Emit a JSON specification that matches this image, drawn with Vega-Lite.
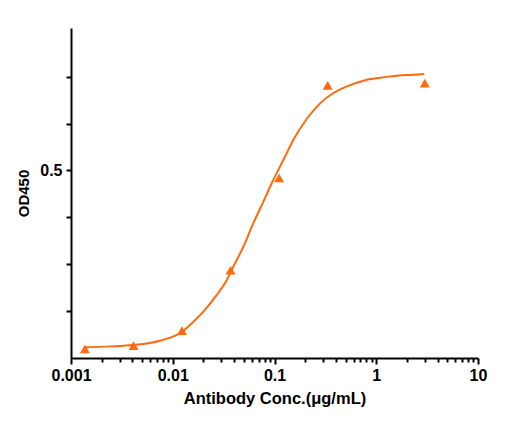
{
  "$schema": "https://vega.github.io/schema/vega-lite/v6.json",
  "width": 407,
  "height": 330,
  "autosize": {"type": "none"},
  "padding": {"left": 71, "top": 28, "right": 53, "bottom": 66},
  "background": "white",
  "config": {
    "view": {"stroke": null},
    "font": "Liberation Sans",
    "axis": {
      "domainColor": "black",
      "domainWidth": 2,
      "tickColor": "black",
      "tickWidth": 2,
      "grid": false,
      "labelFont": "Liberation Sans",
      "labelFontWeight": "bold",
      "labelFontSize": 16,
      "labelColor": "black",
      "titleFont": "Liberation Sans",
      "titleFontWeight": "bold",
      "titleFontSize": 16.5,
      "titleColor": "black"
    }
  },
  "datasets": {
    "points": [
      {"conc": 0.00137, "od": 0.024},
      {"conc": 0.00412, "od": 0.033},
      {"conc": 0.0123, "od": 0.073},
      {"conc": 0.037, "od": 0.234},
      {"conc": 0.111, "od": 0.48},
      {"conc": 0.333, "od": 0.727},
      {"conc": 3.0, "od": 0.733}
    ],
    "curve": [
      {"conc": 0.00135, "od": 0.0286},
      {"conc": 0.00242, "od": 0.031},
      {"conc": 0.0041, "od": 0.0347},
      {"conc": 0.0075, "od": 0.0462},
      {"conc": 0.0123, "od": 0.0695},
      {"conc": 0.01479, "od": 0.0881},
      {"conc": 0.02, "od": 0.1236},
      {"conc": 0.0271, "od": 0.1682},
      {"conc": 0.034, "od": 0.2082},
      {"conc": 0.0394, "od": 0.2437},
      {"conc": 0.0495, "od": 0.2971},
      {"conc": 0.062, "od": 0.3596},
      {"conc": 0.0778, "od": 0.4172},
      {"conc": 0.0975, "od": 0.4752},
      {"conc": 0.1225, "od": 0.5286},
      {"conc": 0.1535, "od": 0.582},
      {"conc": 0.208, "od": 0.638},
      {"conc": 0.2806, "od": 0.679},
      {"conc": 0.3795, "od": 0.7066},
      {"conc": 0.514, "od": 0.7242},
      {"conc": 0.748, "od": 0.7394},
      {"conc": 1.091, "od": 0.7474},
      {"conc": 1.595, "od": 0.7528},
      {"conc": 2.32, "od": 0.7554},
      {"conc": 2.96, "od": 0.7573}
    ]
  },
  "resolve": {"axis": {"x": "independent"}},
  "layer": [
    {
      "data": {"name": "curve"},
      "mark": {"type": "line", "color": "#FF6A0D", "strokeWidth": 2, "interpolate": "monotone"},
      "encoding": {
        "x": {
          "field": "conc", "type": "quantitative",
          "scale": {"type": "log", "domain": [0.001, 10], "nice": false},
          "axis": {
            "orient": "bottom",
            "values": [0.002,0.003,0.004,0.005,0.006,0.007,0.008,0.009,0.02,0.03,0.04,0.05,0.06,0.07,0.08,0.09,0.2,0.3,0.4,0.5,0.6,0.7,0.8,0.9,2,3,4,5,6,7,8,9],
            "labels": false,
            "domain": false,
            "tickSize": 4,
            "title": null
          }
        },
        "y": {
          "field": "od", "type": "quantitative",
          "scale": {"domain": [0, 0.88], "nice": false, "zero": false},
          "axis": {
            "values": [0.125, 0.25, 0.375, 0.5, 0.625, 0.75],
            "labelExpr": "datum.value == 0.5 ? '0.5' : ''",
            "tickSize": 5,
            "labelPadding": 4,
            "title": "OD450",
            "titleFontSize": 15,
            "titlePadding": 8
          }
        }
      }
    },
    {
      "data": {"name": "points"},
      "mark": {"type": "point", "shape": "triangle-up", "filled": true, "color": "#FF6A0D", "size": 100, "opacity": 1},
      "encoding": {
        "x": {
          "field": "conc", "type": "quantitative",
          "scale": {"type": "log", "domain": [0.001, 10], "nice": false},
          "axis": {
            "orient": "bottom",
            "values": [0.001, 0.01, 0.1, 1, 10],
            "format": "~g",
            "tickSize": 6,
            "labelPadding": 3,
            "labelFlush": false,
            "labelOverlap": false,
            "title": "Antibody Conc.(μg/mL)",
            "titlePadding": 7
          }
        },
        "y": {"field": "od", "type": "quantitative"}
      }
    }
  ]
}
